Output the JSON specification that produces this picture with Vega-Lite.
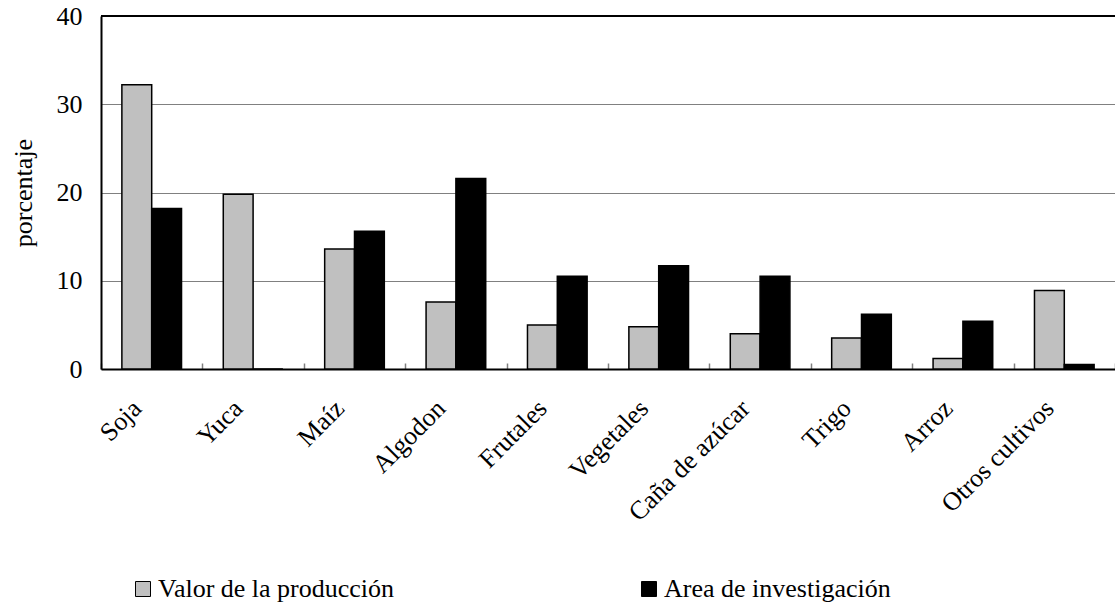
{
  "$schema": "https://vega.github.io/schema/vega-lite/v6.json",
  "width": 1014,
  "height": 353,
  "autosize": {"type": "none"},
  "padding": {"left": 101, "top": 16, "right": 0, "bottom": 233},
  "background": "white",
  "config": {"view": {"stroke": null}, "font": "Liberation Serif"},
  "data": {
    "values": [
      {"cultivo": "Soja", "serie": "Valor de la producción", "valor": 32.2},
      {"cultivo": "Soja", "serie": "Area de investigación", "valor": 18.2},
      {"cultivo": "Yuca", "serie": "Valor de la producción", "valor": 19.8},
      {"cultivo": "Yuca", "serie": "Area de investigación", "valor": 0},
      {"cultivo": "Maíz", "serie": "Valor de la producción", "valor": 13.6},
      {"cultivo": "Maíz", "serie": "Area de investigación", "valor": 15.6},
      {"cultivo": "Algodon", "serie": "Valor de la producción", "valor": 7.6},
      {"cultivo": "Algodon", "serie": "Area de investigación", "valor": 21.6},
      {"cultivo": "Frutales", "serie": "Valor de la producción", "valor": 5.0},
      {"cultivo": "Frutales", "serie": "Area de investigación", "valor": 10.5},
      {"cultivo": "Vegetales", "serie": "Valor de la producción", "valor": 4.8},
      {"cultivo": "Vegetales", "serie": "Area de investigación", "valor": 11.7},
      {"cultivo": "Caña de azúcar", "serie": "Valor de la producción", "valor": 4.0},
      {"cultivo": "Caña de azúcar", "serie": "Area de investigación", "valor": 10.5},
      {"cultivo": "Trigo", "serie": "Valor de la producción", "valor": 3.5},
      {"cultivo": "Trigo", "serie": "Area de investigación", "valor": 6.2},
      {"cultivo": "Arroz", "serie": "Valor de la producción", "valor": 1.2},
      {"cultivo": "Arroz", "serie": "Area de investigación", "valor": 5.4},
      {"cultivo": "Otros cultivos", "serie": "Valor de la producción", "valor": 8.9},
      {"cultivo": "Otros cultivos", "serie": "Area de investigación", "valor": 0.5}
    ]
  },
  "layer": [
    {
      "mark": {"type": "bar", "stroke": "black", "strokeWidth": 1.5},
      "encoding": {
        "x": {
          "field": "cultivo",
          "type": "nominal",
          "sort": null,
          "scale": {"paddingInner": 0, "paddingOuter": 0},
          "axis": {
            "title": null,
            "labelAngle": -45,
            "labelAlign": "right",
            "labelBaseline": "middle",
            "labelFontSize": 26,
            "labelFont": "Liberation Serif",
            "labelColor": "black",
            "labelPadding": 41,
            "labelOffset": -15,
            "labelLimit": 0,
            "tickBand": "extent",
            "tickSize": -6,
            "tickColor": "#808080",
            "tickWidth": 1.5,
            "domainColor": "black",
            "domainWidth": 2,
            "grid": false
          }
        },
        "xOffset": {
          "field": "serie",
          "type": "nominal",
          "sort": ["Valor de la producción", "Area de investigación"],
          "scale": {"paddingInner": 0, "paddingOuter": 0.7}
        },
        "y": {
          "field": "valor",
          "type": "quantitative",
          "scale": {"domain": [0, 40]},
          "axis": {
            "title": "porcentaje",
            "values": [0, 10, 20, 30, 40],
            "ticks": false,
            "labelPadding": 19,
            "labelFontSize": 26,
            "labelFont": "Liberation Serif",
            "labelColor": "black",
            "titleFontSize": 26,
            "titleFont": "Liberation Serif",
            "titleFontWeight": "normal",
            "titleColor": "black",
            "titlePadding": 20,
            "gridColor": "#808080",
            "gridWidth": 1.2,
            "domainColor": "black",
            "domainWidth": 2
          }
        },
        "color": {
          "field": "serie",
          "type": "nominal",
          "scale": {
            "domain": ["Valor de la producción", "Area de investigación"],
            "range": ["#C0C0C0", "#000000"]
          },
          "legend": {
            "title": null,
            "orient": "none",
            "legendX": 29,
            "legendY": 560,
            "direction": "horizontal",
            "symbolType": "square",
            "symbolSize": 225,
            "symbolStrokeColor": "black",
            "symbolStrokeWidth": 1,
            "symbolOpacity": 1,
            "labelFontSize": 26,
            "labelFont": "Liberation Serif",
            "labelColor": "black",
            "labelOffset": 2,
            "labelLimit": 0,
            "columnPadding": 241
          }
        }
      }
    },
    {
      "mark": {"type": "rule", "color": "black", "strokeWidth": 2},
      "encoding": {"y": {"datum": 40}}
    }
  ]
}
